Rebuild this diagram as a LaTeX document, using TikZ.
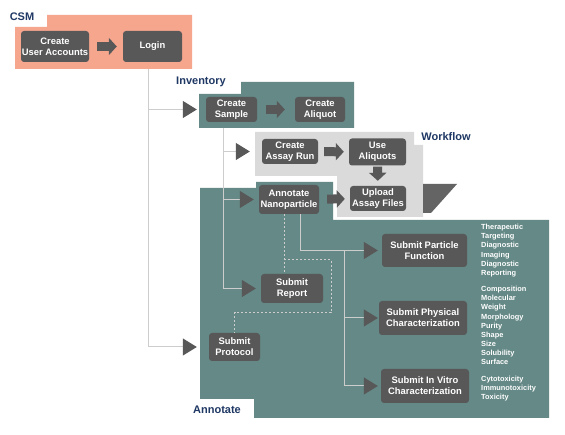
\documentclass[tikz,border=0pt]{standalone}
\usepackage{fontspec}
\setmainfont{Liberation Sans}
\usetikzlibrary{arrows.meta}
\definecolor{csmfill}{RGB}{247,166,142}
\definecolor{panelteal}{RGB}{100,137,134}
\definecolor{flowgray}{RGB}{218,218,218}
\definecolor{foldgray}{RGB}{100,100,100}
\definecolor{boxgray}{RGB}{88,88,88}
\definecolor{linegray}{RGB}{205,205,205}
\definecolor{titleblue}{RGB}{31,56,100}
\begin{document}
\begin{tikzpicture}[x=1pt, y=-1pt,
	task/.style={fill=boxgray, rounded corners=3pt, text=white, font=\bfseries\fontsize{9.4}{10.8}\selectfont, align=center, inner sep=0pt},
	title/.style={text=titleblue, font=\bfseries\fontsize{11}{12}\selectfont, inner sep=0pt},
	items/.style={text=white, font=\bfseries\fontsize{7.4}{9.15}\selectfont, align=left, anchor=north west, inner sep=0pt},
	link/.style={draw=linegray, line width=1pt, -{Triangle[length=14pt,width=17pt,color=boxgray]}},
	dots/.style={draw=linegray, line width=1pt, dash pattern=on 2pt off 2pt},
	push/.style={draw=boxgray, line width=9pt, -{Triangle[length=8pt,width=17pt]}}]
	\path[use as bounding box, fill=white] (0,0) rectangle (565,435);

	\fill[csmfill] (15,27) -- (47,27) -- (47,15) -- (192,15) -- (192,69) -- (15,69) -- cycle;
	\fill[panelteal] (199,94) -- (241,94) -- (241,82) -- (354,82) -- (354,128) -- (199,128) -- cycle;
	\fill[panelteal] (200,188) -- (256,188) -- (256,182) -- (333,182) -- (333,220) -- (549,220) -- (549,418) -- (254,418) -- (254,399) -- (200,399) -- cycle;
	\fill[flowgray] (255,132) -- (414,132) -- (414,145) -- (423,145) -- (423,217) -- (337,217) -- (337,176) -- (255,176) -- cycle;
	\fill[foldgray] (423,184) -- (457,184) -- (431,213) -- (423,213) -- cycle;

	\node[title] (csm) at (22,16.5) {CSM};
	\node[title] (inventory) at (201,82) {Inventory};
	\node[title] (workflow) at (446,136.5) {Workflow};
	\node[title] (annotate) at (217,409.5) {Annotate};

	\node[task, minimum width=68, minimum height=31] (accounts) at (55,46.5) {Create\\User Accounts};
	\node[task, minimum width=59, minimum height=31] (login) at (152.5,46.5) {Login};
	\node[task, minimum width=51, minimum height=25] (sample) at (231.5,109.5) {Create\\Sample};
	\node[task, minimum width=50, minimum height=25] (aliquot) at (320,109.5) {Create\\Aliquot};
	\node[task, minimum width=56, minimum height=25] (assayrun) at (290,151.5) {Create\\Assay Run};
	\node[task, minimum width=57, minimum height=27] (usealiq) at (377.5,152) {Use\\Aliquots};
	\node[task, minimum width=56, minimum height=25] (upload) at (378,198.5) {Upload\\Assay Files};
	\node[task, minimum width=60, minimum height=29] (nano) at (289,199.5) {Annotate\\Nanoparticle};
	\node[task, minimum width=62, minimum height=29] (report) at (292,288.5) {Submit\\Report};
	\node[task, minimum width=51, minimum height=28] (protocol) at (234.5,347) {Submit\\Protocol};
	\node[task, minimum width=85, minimum height=33] (function) at (424.5,250.5) {Submit Particle\\Function};
	\node[task, minimum width=88, minimum height=34] (physical) at (423,318) {Submit Physical\\Characterization};
	\node[task, minimum width=88, minimum height=34] (vitro) at (425,386) {Submit In Vitro\\Characterization};

	\node[items] (functionlist) at (481,224) {Therapeutic\\Targeting\\Diagnostic\\Imaging\\Diagnostic\\Reporting};
	\node[items] (physicallist) at (481,286) {Composition\\Molecular\\Weight\\Morphology\\Purity\\Shape\\Size\\Solubility\\Surface};
	\node[items] (vitrolist) at (481,376) {Cytotoxicity\\Immunotoxicity\\Toxicity};

	\coordinate (csmout) at (148,69);
	\coordinate (invout) at (223,128);
	\coordinate (nanoout) at ([xshift=11pt]nano.south);
	\coordinate (fork) at (344,250.5);
	\coordinate (dashtop) at ([xshift=-5pt]nano.south);
	\coordinate (dashbend) at (284,260);
	\coordinate (dashloop) at (331,313);

	\draw[link, shorten >=9pt] (csmout) |- (sample.west);
	\draw[link, shorten >=12pt] (csmout) |- (protocol.west);
	\draw[link, shorten >=12pt] (invout) |- (assayrun.west);
	\draw[link, shorten >=5pt] (invout) |- (nano.west);
	\draw[link, shorten >=5pt] (invout) |- (report.west);
	\draw[link, shorten >=4pt] (nanoout) |- (function.west);
	\draw[link, shorten >=1pt] (fork) |- (physical.west);
	\draw[link, shorten >=3pt] (fork) |- (vitro.west);

	\draw[dots] (dashtop) -- (report.north -| dashtop);
	\draw[dots] (dashbend) -| (dashloop) -| (protocol.north);

	\draw[push, shorten <=8pt, shorten >=6pt] (accounts) -- (login);
	\draw[push, shorten <=9pt, shorten >=10pt] (sample) -- (aliquot);
	\draw[push, shorten <=6pt, shorten >=5pt] (assayrun) -- (usealiq);
	\draw[push, shorten <=1pt, shorten >=5pt] (usealiq) -- (upload);
	\draw[push, shorten <=8pt, shorten >=5pt] (nano) -- (upload);
\end{tikzpicture}
\end{document}
